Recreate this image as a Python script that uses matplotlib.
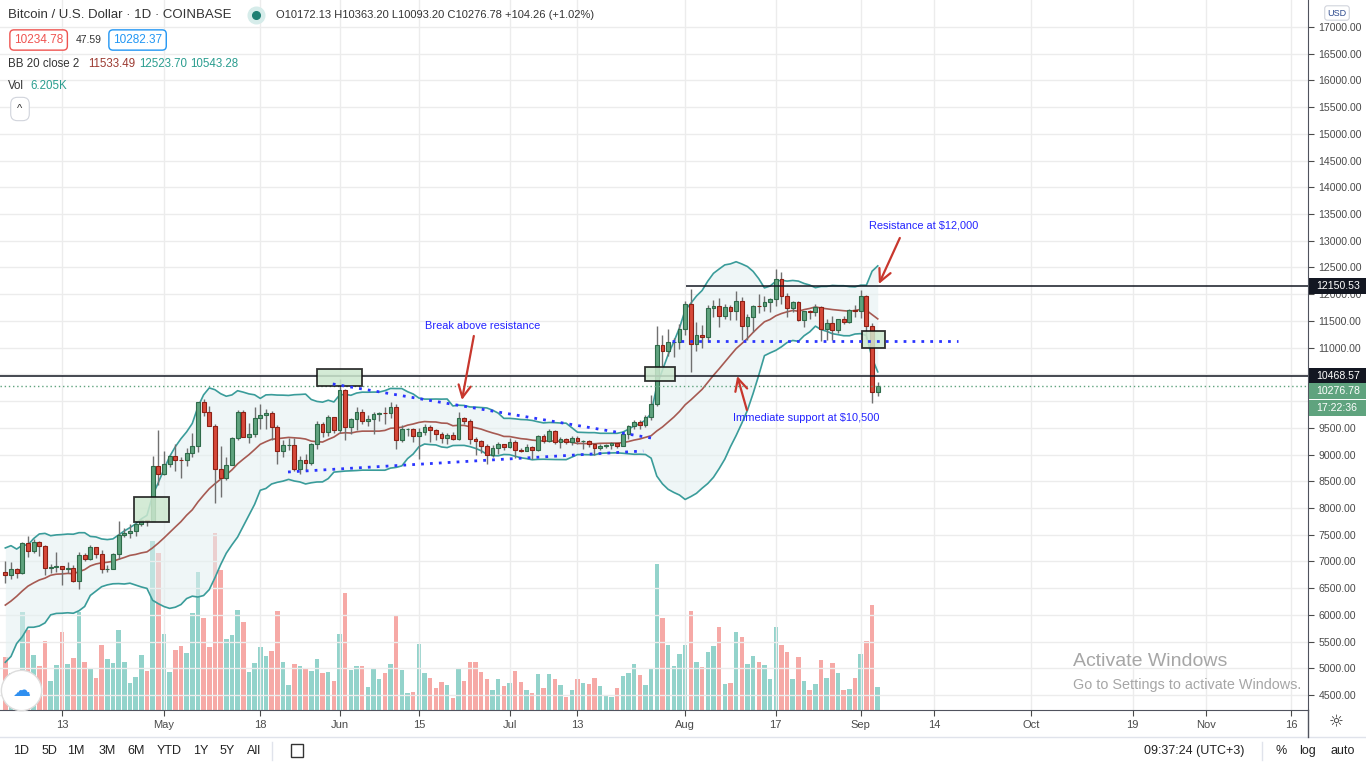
import numpy as np
import pandas as pd
import matplotlib
matplotlib.use('Agg')
import matplotlib.pyplot as plt
from matplotlib.patches import Rectangle
from matplotlib.lines import Line2D

plt.rcParams['font.family'] = ['Liberation Sans', 'DejaVu Sans']

# ---------------- data (BTC/USD daily, Coinbase) ----------------
start = '2020-04-03'

# closes before the first visible candle (Mar 15 - Apr 2), needed for BB(20)
prior_closes = [5350, 5000, 5330, 5400, 6160, 6200, 6180, 5820, 6490, 6770,
                6690, 6750, 6370, 6250, 5880, 6400, 6420, 6640, 6800]

opens = [
    # Apr 3 - Apr 30
    6800, 6740, 6860, 6780, 7340, 7200, 7370, 7290, 6870, 6890, 6910, 6860, 6880, 6630,
    7120, 7040, 7260, 7130, 6850, 6860, 7140, 7500, 7540, 7560, 7700, 7770, 7760, 8790,
    # May
    8630, 8830, 8970, 8900, 8890, 9030, 9150, 9980, 9800, 9540, 8720, 8560, 8810, 9310,
    9790, 9320, 9380, 9680, 9730, 9780, 9510, 9070, 9170, 9180, 8720, 8900, 8840, 9200,
    9580, 9420, 9700,
    # Jun
    9450, 10210, 9520, 9670, 9790, 9620, 9670, 9750, 9780, 9770, 9880, 9280, 9470, 9480,
    9340, 9430, 9520, 9460, 9380, 9300, 9360, 9290, 9690, 9620, 9290, 9250, 9160, 9000,
    9120, 9190,
    # Jul
    9140, 9240, 9090, 9070, 9140, 9080, 9350, 9260, 9440, 9240, 9290, 9240, 9310, 9250,
    9255, 9190, 9130, 9160, 9170, 9210, 9160, 9390, 9530, 9610, 9550, 9710, 9940, 11040,
    10930, 11100, 11110,
    # Aug
    11350, 11810, 11070, 11230, 11190, 11750, 11780, 11600, 11760, 11680, 11880, 11400,
    11580, 11780, 11770, 11860, 11910, 12290, 11960, 11750, 11860, 11520, 11680, 11660,
    11760, 11340, 11470, 11330, 11530, 11480, 11710,
    # Sep
    11680, 11970, 11410, 10172.13,
]
highs = [
    7000, 6980, 6885, 7370, 7470, 7420, 7380, 7300, 6950, 7180, 6920, 6980, 6940, 7180,
    7150, 7300, 7260, 7210, 6940, 7150, 7750, 7620, 7700, 7710, 7800, 7780, 8970, 9460,
    9070, 9000, 9190, 8950, 9120, 9400, 9990, 10040, 9900, 9570, 9150, 8960, 9330, 9840,
    9840, 9590, 9880, 9950, 9860, 9820, 9560, 9270, 9310, 9300, 8980, 9010, 9210, 9630,
    9600, 9740, 9700,
    10420, 10230, 9690, 9880, 9860, 9730, 9790, 9800, 9880, 9990, 9950, 9560, 9490, 9490,
    9500, 9580, 9550, 9470, 9430, 9400, 9420, 9790, 9700, 9670, 9330, 9280, 9200, 9180,
    9230, 9200,
    9310, 9270, 9130, 9190, 9150, 9370, 9380, 9480, 9450, 9320, 9300, 9340, 9350, 9280,
    9270, 9210, 9190, 9200, 9230, 9220, 9420, 9550, 9640, 9640, 9740, 10120, 11400, 11240,
    11350, 11180, 11450,
    11870, 12100, 11480, 11430, 11790, 11900, 11920, 11810, 11800, 12060, 11950, 11620,
    11800, 12000, 11970, 11930, 12470, 12410, 12020, 11880, 11880, 11690, 11700, 11820,
    11770, 11540, 11590, 11540, 11590, 11720, 11790,
    12080, 11980, 11460, 10363.20,
]
lows = [
    6600, 6670, 6680, 6770, 7080, 7150, 7110, 6750, 6780, 6800, 6560, 6780, 6620, 6480,
    7010, 7030, 7060, 6780, 6800, 6850, 7050, 7450, 7440, 7480, 7660, 7660, 7750, 8420,
    8620, 8770, 8700, 8560, 8780, 8950, 9050, 9720, 9530, 8100, 8200, 8530, 8800, 9270,
    9330, 9210, 9320, 9480, 9480, 9270, 8820, 8950, 9090, 8700, 8640, 8700, 8810, 9110,
    9330, 9340, 9400,
    9400, 9270, 9380, 9460, 9580, 9530, 9380, 9630, 9570, 9690, 9110, 9240, 9350, 9230,
    8920, 9360, 9240, 9270, 9210, 9200, 9280, 9280, 9580, 9200, 9000, 9030, 8830, 8950,
    9010, 9080,
    9130, 8940, 9040, 9060, 8920, 9060, 9210, 9240, 9200, 9120, 9190, 9170, 9200, 9110,
    9140, 9000, 9090, 9130, 9110, 9130, 9150, 9290, 9480, 9480, 9520, 9650, 9900, 10650,
    10850, 10830, 10980,
    11230, 10540, 10930, 11000, 11100, 11580, 11380, 11530, 11520, 11520, 11140, 11150,
    11290, 11640, 11690, 11670, 11780, 11820, 11570, 11670, 11500, 11380, 11540, 11600,
    11120, 11150, 11140, 11280, 11440, 11460, 11580,
    11560, 11170, 9960, 10093.20,
]
closes = [
    6740, 6860, 6780, 7340, 7200, 7370, 7290, 6870, 6890, 6910, 6860, 6880, 6630, 7120,
    7040, 7260, 7130, 6850, 6860, 7140, 7500, 7540, 7560, 7700, 7770, 7760, 8790, 8630,
    8830, 8970, 8900, 8890, 9030, 9150, 9980, 9800, 9540, 8720, 8560, 8810, 9310, 9790,
    9320, 9380, 9680, 9730, 9780, 9510, 9070, 9170, 9180, 8720, 8900, 8840, 9200, 9580,
    9420, 9700, 9450,
    10210, 9520, 9670, 9790, 9620, 9670, 9750, 9780, 9770, 9880, 9280, 9470, 9480, 9340,
    9430, 9520, 9460, 9380, 9300, 9360, 9290, 9690, 9620, 9290, 9250, 9160, 9000, 9120,
    9190, 9140,
    9240, 9090, 9070, 9140, 9080, 9350, 9260, 9440, 9240, 9290, 9240, 9310, 9250, 9255,
    9190, 9130, 9160, 9170, 9210, 9160, 9390, 9530, 9610, 9550, 9710, 9940, 11040, 10930,
    11100, 11110, 11350,
    11810, 11070, 11230, 11190, 11750, 11780, 11600, 11760, 11680, 11880, 11400, 11580,
    11780, 11770, 11860, 11910, 12290, 11960, 11750, 11860, 11520, 11680, 11660, 11760,
    11340, 11470, 11330, 11530, 11480, 11710, 11680,
    11970, 11410, 10172.13, 10276.78,
]
# volume, thousand BTC
volumes = [
    14.3, 10.0, 6.8, 26.5, 21.6, 14.9, 11.9, 18.6, 7.8, 12.2, 21.1, 12.4, 14.0, 26.5,
    13.0, 11.1, 8.6, 17.6, 13.8, 12.7, 21.6, 13.0, 7.3, 8.9, 14.9, 10.5, 45.6, 42.4,
    20.5, 10.3, 16.2, 17.3, 15.4, 26.2, 37.3, 24.8, 17.0, 47.8, 37.8, 19.2, 20.3, 27.0,
    23.8, 10.3, 12.7, 17.0, 14.6, 15.9, 26.7, 13.0, 6.8, 12.4, 11.9, 11.1, 10.5, 13.8,
    10.0, 10.3, 7.8,
    20.5, 31.6, 10.8, 11.9, 11.9, 6.2, 11.1, 8.4, 10.0, 12.4, 25.4, 10.8, 4.6, 4.9,
    17.8, 10.0, 8.6, 5.9, 7.6, 6.8, 3.2, 11.3, 7.8, 13.0, 13.0, 10.3, 8.4, 5.4,
    8.4, 6.5,
    7.3, 10.5, 7.6, 5.4, 4.6, 9.7, 5.9, 9.7, 8.4, 6.8, 3.5, 5.4, 8.4, 7.3,
    7.0, 8.6, 6.5, 4.1, 3.5, 5.9, 9.2, 10.0, 12.4, 9.5, 6.8, 11.3, 39.4, 24.8,
    17.6, 11.9, 15.1,
    17.6, 26.7, 13.0, 11.6, 15.7, 17.3, 22.4, 7.0, 7.3, 21.1, 19.7, 12.4,
    14.6, 13.0, 12.2, 8.4, 22.4, 17.6, 15.7, 8.4, 14.3, 7.8, 5.4, 7.0,
    13.5, 8.6, 12.7, 10.0, 5.4, 5.7, 8.6,
    15.1, 18.6, 28.4, 6.2,
]

tick_dates = ['2020-04-13', '2020-05-01', '2020-05-18', '2020-06-01', '2020-06-15',
              '2020-07-01', '2020-07-13', '2020-08-01', '2020-08-17', '2020-09-01',
              '2020-09-14', '2020-10-01', '2020-10-19', '2020-11-01', '2020-11-16']
tick_labels = ['13', 'May', '18', 'Jun', '15', 'Jul', '13', 'Aug', '17', 'Sep',
               '14', 'Oct', '19', 'Nov', '16']

# drawings on the chart (day, price)
boxes = [((22.7, 7737), (28.9, 8205)), ((55.0, 10282), (63.0, 10601)),
         ((112.9, 10376), (118.2, 10638)), ((151.2, 10993), (155.3, 11311))]
trend_lines = [((57.8, 10320), (115.0, 9291)), ((49.9, 8673), (112.6, 9066)),
               ((117.7, 11124), (168.2, 11124))]
arrows = [((82.7, 11218), (80.6, 10020)), ((130.9, 9833), (129.2, 10469)),
          ((157.9, 13052), (154.2, 12191))]
notes = [(74.1, 11405, 'Break above resistance'),
         (128.5, 9684, 'Immediate support at $10,500'),
         (152.5, 13276, 'Resistance at $12,000')]
level_main = 10468.57
level_top = 12150.53
last_price = 10276.78


def main():
    W, H = 1366, 768
    o = np.array(opens, float)
    h = np.array(highs, float)
    l = np.array(lows, float)
    c = np.array(closes, float)
    v = np.array(volumes, float)
    x = np.arange(len(c))
    t0 = pd.Timestamp(start)
    up = c >= o

    s = pd.Series(prior_closes + closes, dtype=float)
    basis = s.rolling(20).mean()
    sd = s.rolling(20).std(ddof=0)
    n0 = len(prior_closes)
    bb_mid = basis.iloc[n0:].values
    bb_up = (basis + 2 * sd).iloc[n0:].values
    bb_lo = (basis - 2 * sd).iloc[n0:].values

    fig = plt.figure(figsize=(W / 100, H / 100), dpi=100)
    rect = [0, 58 / H, 1308 / W, 710 / H]
    vax = fig.add_axes(rect)
    ax = fig.add_axes(rect, sharex=vax)
    ax.patch.set_visible(False)

    # volume overlay
    vax.bar(x, v, width=0.8, color=np.where(up, '#93d3cb', '#f6a9a6'),
            edgecolor='none', linewidth=0)
    vax.set_ylim(0, 192)
    vax.set_axis_off()

    ax.set_xlim(-0.94, 229.95)
    ax.set_ylim(4219, 17505)

    # grid
    tick_pos = [(pd.Timestamp(d) - t0).days for d in tick_dates]
    ax.set_xticks(tick_pos)
    ax.set_xticklabels(tick_labels)
    yt = np.arange(4500, 17001, 500)
    ax.set_yticks(yt)
    # 10000 and 10500 sit under the price boxes on the scale
    ax.set_yticklabels(['' if y in (10000, 10500) else '%.2f' % y for y in yt])
    ax.yaxis.tick_right()
    ax.grid(True, color='#ececec', lw=1)
    ax.set_axisbelow(True)
    for sp in ['top', 'left']:
        ax.spines[sp].set_visible(False)
    for sp in ['right', 'bottom']:
        ax.spines[sp].set_color('#50535e')
    ax.tick_params(axis='y', length=4, pad=3.5, labelsize=7.6, colors='#4a4a4a')
    ax.tick_params(axis='x', length=4, pad=3, labelsize=8, colors='#4a4a4a')

    # Bollinger bands
    ax.fill_between(x, bb_lo, bb_up, color='#e3f0f1', alpha=0.55, lw=0, zorder=1)
    ax.plot(x, bb_up, color='#3a9c9a', lw=1.2, zorder=2)
    ax.plot(x, bb_lo, color='#3a9c9a', lw=1.2, zorder=2)
    ax.plot(x, bb_mid, color='#a65a52', lw=1.2, zorder=2)

    # candles
    body_lo = np.minimum(o, c)
    body_h = np.maximum(np.abs(c - o), 12)
    ax.vlines(x, l, h, color='#707070', lw=1, zorder=3)
    ax.bar(x[up], body_h[up], bottom=body_lo[up], width=0.68, color='#5fa37e',
           edgecolor='#2f6b4a', lw=0.8, zorder=4)
    ax.bar(x[~up], body_h[~up], bottom=body_lo[~up], width=0.68, color='#d6493a',
           edgecolor='#8e2015', lw=0.8, zorder=4)

    # horizontal levels
    ax.axhline(level_main, color='#131722', lw=1.1, zorder=5)
    ax.hlines(level_top, 120.2, 230, color='#131722', lw=1.1, zorder=5)
    ax.axhline(last_price, color='#5fa37e', lw=1, ls=(0, (1, 2)), zorder=5)

    # drawings
    for (x0, y0), (x1, y1) in boxes:
        ax.add_patch(Rectangle((x0, y0), x1 - x0, y1 - y0, facecolor='#cde8cf',
                               alpha=0.85, edgecolor='#111111', lw=1.3, zorder=6))
    for (x0, y0), (x1, y1) in trend_lines:
        ax.plot([x0, x1], [y0, y1], color='#2b35ff', lw=2, ls=(0, (1, 2.2)), zorder=6)
    for (x0, y0), (x1, y1) in arrows:
        ax.annotate('', xy=(x1, y1), xytext=(x0, y0), zorder=7,
                    arrowprops=dict(arrowstyle='->', lw=1.6, color='#c8372d',
                                    mutation_scale=22, shrinkA=0, shrinkB=0))
    for nx, ny, txt in notes:
        ax.text(nx, ny, txt, color='#2323ff', fontsize=7.9, va='center', ha='left', zorder=7)

    # price labels on the right scale
    def fy(p):
        return fig.transFigure.inverted().transform(ax.transData.transform((0, p)))[1]

    def label_box(yc, txt, fc):
        fig.add_artist(Rectangle((1309 / W, yc - 8 / H), 57 / W, 16 / H,
                                 transform=fig.transFigure, facecolor=fc, edgecolor='none'))
        fig.text(1316 / W, yc, txt, color='white', fontsize=7.6, va='center', ha='left')

    label_box(fy(level_top), '%.2f' % level_top, '#131722')
    label_box(fy(level_main), '%.2f' % level_main, '#131722')
    label_box(1 - 391 / H, '%.2f' % last_price, '#5fa37e')
    label_box(1 - 408 / H, '17:22:36', '#5fa37e')

    fig.text(1337 / W, 1 - 13 / H, 'USD', fontsize=6.5, color='#2d4b8e', ha='center', va='center',
             bbox=dict(boxstyle='round,pad=0.3', fc='white', ec='#d1d4dc', lw=0.8))

    # legend at top left
    fig.text(8 / W, 1 - 15 / H, 'Bitcoin / U.S. Dollar · 1D · COINBASE', fontsize=9.5,
             color='#333333', va='center')
    fig.add_artist(Line2D([256 / W], [1 - 15 / H], marker='o', ms=12, color='#d6ecea',
                          transform=fig.transFigure))
    fig.add_artist(Line2D([256 / W], [1 - 15 / H], marker='o', ms=5.5, color='#1f7f73',
                          transform=fig.transFigure))
    fig.text(276 / W, 1 - 15 / H, 'O10172.13 H10363.20 L10093.20 C10276.78 +104.26 (+1.02%)',
             fontsize=8, color='#333333', va='center')
    fig.text(14 / W, 1 - 40 / H, '10234.78', fontsize=8.5, color='#ef5350', va='center',
             bbox=dict(boxstyle='round,pad=0.35', fc='white', ec='#ef5350', lw=1))
    fig.text(76 / W, 1 - 40 / H, '47.59', fontsize=7.5, color='#333333', va='center')
    fig.text(113 / W, 1 - 40 / H, '10282.37', fontsize=8.5, color='#2196f3', va='center',
             bbox=dict(boxstyle='round,pad=0.35', fc='white', ec='#2196f3', lw=1))
    fig.text(8 / W, 1 - 64 / H, 'BB 20 close 2', fontsize=8.3, color='#333333', va='center')
    fig.text(88 / W, 1 - 64 / H, '11533.49', fontsize=8.3, color='#9c3b32', va='center')
    fig.text(139 / W, 1 - 64 / H, '12523.70', fontsize=8.3, color='#2a9d8f', va='center')
    fig.text(190 / W, 1 - 64 / H, '10543.28', fontsize=8.3, color='#2a9d8f', va='center')
    fig.text(8 / W, 1 - 86 / H, 'Vol', fontsize=8.3, color='#333333', va='center')
    fig.text(30 / W, 1 - 86 / H, '6.205K', fontsize=8.3, color='#2a9d8f', va='center')
    fig.text(20 / W, 1 - 109 / H, '^', fontsize=8, color='#333333', va='center', ha='center',
             bbox=dict(boxstyle='round,pad=0.6', fc='white', ec='#d1d4dc', lw=0.8))

    # logo bottom left
    fig.add_artist(Line2D([21 / W], [1 - 690 / H], marker='o', ms=29, color='white',
                          mec='#dddddd', mew=1, transform=fig.transFigure))
    fig.text(21 / W, 1 - 691 / H, '\u2601', fontsize=13, color='#2f8ff0', ha='center',
             va='center', family=['DejaVu Sans'])

    # watermark
    fig.text(1073 / W, 1 - 662 / H, 'Activate Windows', fontsize=14, color='#a6a6a6', va='center')
    fig.text(1073 / W, 1 - 685 / H, 'Go to Settings to activate Windows.', fontsize=10.4,
             color='#a6a6a6', va='center')

    # bottom bar
    fig.add_artist(Line2D([0, 1], [1 - 737 / H] * 2, color='#e0e3eb', lw=1, transform=fig.transFigure))
    fig.add_artist(Line2D([1308 / W] * 2, [1 - 710 / H, 1 - 737 / H], color='#50535e', lw=1,
                          transform=fig.transFigure))
    fig.text(1336 / W, 1 - 722 / H, '\u263c', fontsize=12, color='#333333', ha='center',
             va='center', family=['DejaVu Sans'])
    ranges = ['1D', '5D', '1M', '3M', '6M', 'YTD', '1Y', '5Y', 'All']
    centers = [21, 49, 76, 107, 136, 169, 201, 227, 254]
    for lab, cx in zip(ranges, centers):
        fig.text(cx / W, 1 - 751 / H, lab, fontsize=9, color='#222222', ha='center', va='center')
    for sx in [272, 1262]:
        fig.add_artist(Line2D([sx / W] * 2, [1 - 742 / H, 1 - 760 / H], color='#e0e3eb', lw=1,
                              transform=fig.transFigure))
    fig.add_artist(Rectangle((291 / W, 1 - 757 / H), 12 / W, 13 / H, fill=False,
                             edgecolor='#333333', lw=1, transform=fig.transFigure))
    fig.text(1194 / W, 1 - 751 / H, '09:37:24 (UTC+3)', fontsize=9, color='#222222',
             ha='center', va='center')
    fig.text(1281 / W, 1 - 751 / H, '%', fontsize=9, color='#222222', ha='center', va='center')
    fig.text(1308 / W, 1 - 751 / H, 'log', fontsize=9, color='#222222', ha='center', va='center')
    fig.text(1343 / W, 1 - 751 / H, 'auto', fontsize=9, color='#222222', ha='center', va='center')

    fig.savefig('out.png', dpi=100)


if __name__ == '__main__':
    main()
